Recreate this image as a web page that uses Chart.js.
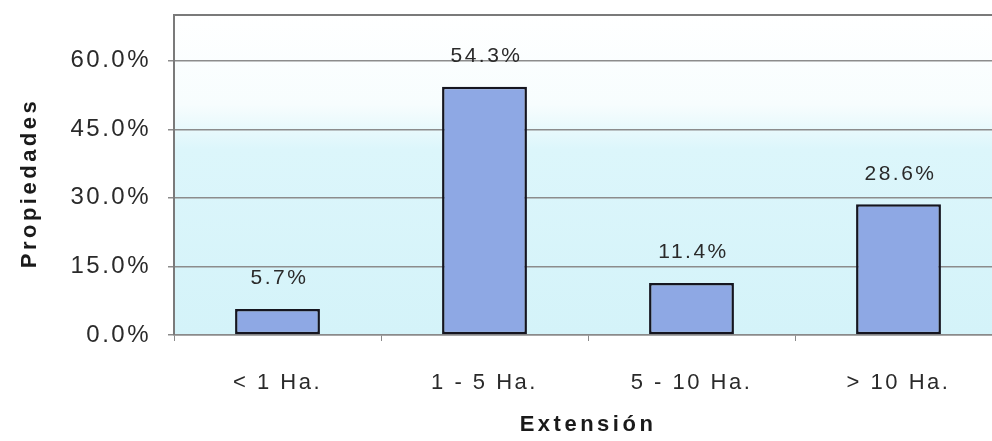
<!DOCTYPE html>
<html lang="es">
<head>
    <meta charset="UTF-8">
    <title>Propiedades por extensión</title>
    <style>
        body, html {
            margin: 0;
            padding: 0;
            width: 992px;
            height: 441px;
            overflow: hidden;
            background: #ffffff;
        }
        canvas {
            display: block;
        }
    </style>
    <script src="https://cdn.jsdelivr.net/npm/chart.js"></script>
</head>
<body>
    <canvas id="extChart" width="1002" height="441"></canvas>
    <script>
        const categories = ['< 1 Ha.', '1 - 5 Ha.', '5 - 10 Ha.', '> 10 Ha.'];
        const shares = [5.7, 54.3, 11.4, 28.6];
        const yTicks = [0, 15, 30, 45, 60];
        const xTitle = 'Extensión';
        const yTitle = 'Propiedades';

        const fontFamily = '"Liberation Sans", Arial, sans-serif';
        const textSpacing = '2.5px';

        // plot background (white fading into light cyan), grey frame, axis titles
        const plotDecor = {
            id: 'plotDecor',
            beforeDraw(chart) {
                const { ctx, chartArea: a } = chart;
                ctx.letterSpacing = textSpacing;
                const g = ctx.createLinearGradient(0, a.top, 0, a.bottom);
                g.addColorStop(0, '#ffffff');
                g.addColorStop(0.28, '#f7fdfe');
                g.addColorStop(0.42, '#dcf6fb');
                g.addColorStop(1, '#d4f3f9');
                ctx.save();
                ctx.fillStyle = g;
                ctx.fillRect(a.left, a.top, a.right - a.left, a.bottom - a.top);
                ctx.restore();
            },
            afterDraw(chart) {
                const { ctx, chartArea: a } = chart;
                ctx.save();
                ctx.strokeStyle = '#7a7a7a';
                ctx.lineWidth = 2;
                ctx.beginPath();
                ctx.moveTo(a.left, a.bottom);
                ctx.lineTo(a.left, a.top);
                ctx.lineTo(a.right, a.top);
                ctx.stroke();

                ctx.fillStyle = '#1a1a1a';
                ctx.font = 'bold 22px ' + fontFamily;
                ctx.letterSpacing = '3.5px';
                ctx.textAlign = 'center';
                ctx.textBaseline = 'middle';
                ctx.fillText(xTitle, (a.left + a.right) / 2, 425);
                ctx.translate(30, (a.top + a.bottom) / 2 + 8);
                ctx.rotate(-Math.PI / 2);
                ctx.fillText(yTitle, 0, 0);
                ctx.restore();
            }
        };

        // value labels above bars
        const barLabels = {
            id: 'barLabels',
            afterDatasetsDraw(chart) {
                const { ctx } = chart;
                const meta = chart.getDatasetMeta(0);
                ctx.save();
                ctx.font = '21px ' + fontFamily;
                ctx.fillStyle = '#2a2a2a';
                ctx.textAlign = 'center';
                ctx.textBaseline = 'bottom';
                meta.data.forEach((bar, i) => {
                    ctx.fillText(shares[i].toFixed(1) + '%', bar.x + 2, bar.y - 20);
                });
                ctx.restore();
            }
        };

        const ctx = document.getElementById('extChart').getContext('2d');
        ctx.letterSpacing = textSpacing;
        new Chart(ctx, {
            type: 'bar',
            data: {
                labels: categories,
                datasets: [{
                    data: shares,
                    backgroundColor: '#8ea8e4',
                    borderColor: '#15151f',
                    borderWidth: 2.5,
                    borderSkipped: false,
                    categoryPercentage: 0.41,
                    barPercentage: 1
                }]
            },
            options: {
                responsive: false,
                animation: false,
                events: [],
                layout: { padding: 0 },
                plugins: {
                    legend: { display: false },
                    tooltip: { enabled: false }
                },
                scales: {
                    x: {
                        offset: true,
                        border: { display: true, color: '#8a8a8a', width: 1.5 },
                        grid: {
                            offset: true,
                            drawOnChartArea: false,
                            drawTicks: true,
                            tickLength: 6,
                            color: '#8a8a8a'
                        },
                        ticks: {
                            color: '#2a2a2a',
                            padding: 29,
                            font: { family: fontFamily, size: 22 }
                        },
                        afterFit(scale) {
                            scale.height = 106;
                            scale.paddingLeft = 0;
                            scale.paddingRight = 0;
                        }
                    },
                    y: {
                        min: 0,
                        max: 70,
                        border: { display: false },
                        grid: {
                            color: '#8c8c8c',
                            lineWidth: 1.5,
                            drawTicks: true,
                            tickLength: 6
                        },
                        ticks: {
                            stepSize: 15,
                            color: '#2a2a2a',
                            padding: 17,
                            font: { family: fontFamily, size: 24 },
                            callback: (v) => v.toFixed(1) + '%'
                        },
                        afterBuildTicks(scale) {
                            scale.ticks = yTicks.map(v => ({ value: v }));
                        },
                        afterFit(scale) {
                            scale.width = 174;
                            scale.paddingTop = 15;
                            scale.paddingBottom = 0;
                        }
                    }
                }
            },
            plugins: [plotDecor, barLabels]
        });
    </script>
</body>
</html>
